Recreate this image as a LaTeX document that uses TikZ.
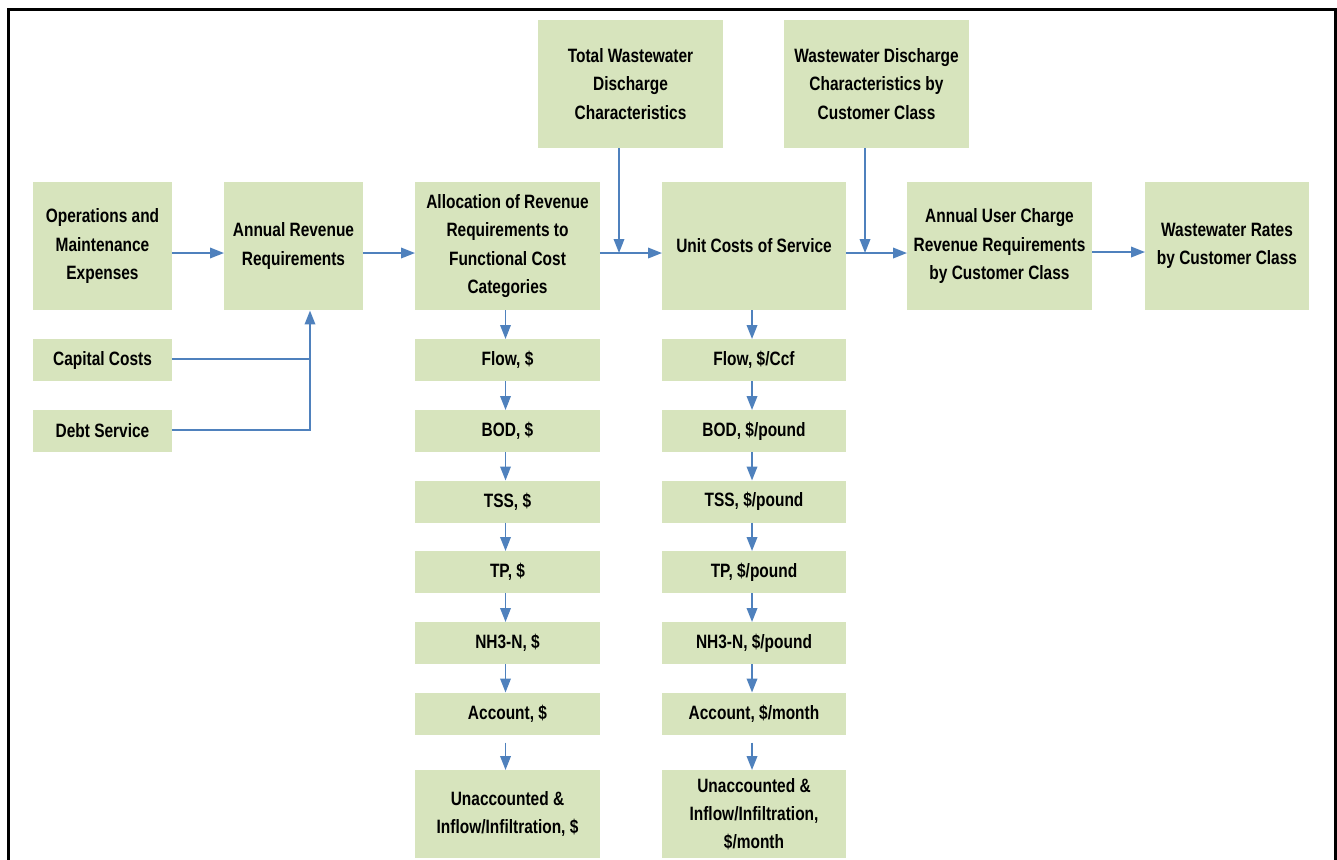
\documentclass[tikz,border=0pt]{standalone}
\usepackage{fontspec}
\setmainfont{Liberation Sans}[FakeStretch=0.8]
\usetikzlibrary{arrows.meta, positioning, calc}
\definecolor{boxgreen}{RGB}{215,228,189}
\definecolor{arrblue}{RGB}{79,129,189}
\tikzset{
  blk/.style={fill=boxgreen, minimum width=#1, inner sep=2pt, outer sep=0pt, align=center,
    font=\bfseries\fontsize{11pt}{16pt}\selectfont},
  blk/.default=2.78cm,
  tall/.style={minimum height=2.58cm},
  flat/.style={minimum height=0.84cm},
  arr/.style={-{Triangle[length=0.28cm, width=0.21cm]}, draw=arrblue, line width=1.1pt},
  ln/.style={draw=arrblue, line width=1.1pt},
  frame/.style={draw=black, line width=1.7pt},
}

\begin{document}
\begin{tikzpicture}[x=0.02cm, y=-0.02cm]
    \useasboundingbox (0,0) rectangle (1337,859);
    \draw[frame] (8.5,875) -- (8.5,9.5) -- (1335,9.5) -- (1335,875);
    \coordinate (mid) at (0,253);
    % top row
    \node[blk, tall] (om) at (102.5,246) {Operations and\\Maintenance\\Expenses};
    \node[blk, tall] (arq) at (293.5,246) {Annual Revenue\\Requirements};
    \node[blk=3.7cm, tall] (alloc) at (507.5,246) {Allocation of Revenue\\Requirements to\\Functional Cost\\Categories};
    \node[blk=3.7cm, tall] (totww) at (630.5,84) {Total Wastewater\\Discharge\\Characteristics};
    \node[blk=3.68cm, tall] (unit) at (754,246) {Unit Costs of Service};
    \node[blk=3.7cm, tall] (wwcls) at (876.5,84) {Wastewater Discharge\\Characteristics by\\Customer Class};
    \node[blk=3.7cm, tall] (auc) at (999.5,246) {Annual User Charge\\Revenue Requirements\\by Customer Class};
    \node[blk=3.28cm, tall] (rates) at (1227,246) {Wastewater Rates\\by Customer Class};
    \node[blk, flat] (cap) at (102.5,360) {Capital Costs};
    \node[blk, flat] (debt) at (102.5,431) {Debt Service};
    % allocation column
    \node[blk=3.7cm, flat] (aflow) at (507.5,360) {Flow, \$};
    \node[blk=3.7cm, flat] (abod) at (507.5,431) {BOD, \$};
    \node[blk=3.7cm, flat] (atss) at (507.5,501.5) {TSS, \$};
    \node[blk=3.7cm, flat] (atp) at (507.5,572) {TP, \$};
    \node[blk=3.7cm, flat] (anh) at (507.5,643) {NH3-N, \$};
    \node[blk=3.7cm, flat] (aacc) at (507.5,713.5) {Account, \$};
    \node[blk=3.7cm, minimum height=1.76cm] (aii) at (507.5,814) {Unaccounted \&\\Inflow/Infiltration, \$};
    % unit cost column
    \node[blk=3.68cm, flat] (uflow) at (754,360) {Flow, \$/Ccf};
    \node[blk=3.68cm, flat] (ubod) at (754,431) {BOD, \$/pound};
    \node[blk=3.68cm, flat] (utss) at (754,501.5) {TSS, \$/pound};
    \node[blk=3.68cm, flat] (utp) at (754,572) {TP, \$/pound};
    \node[blk=3.68cm, flat] (unh) at (754,643) {NH3-N, \$/pound};
    \node[blk=3.68cm, flat] (uacc) at (754,713.5) {Account, \$/month};
    \node[blk=3.68cm, minimum height=1.76cm] (uii) at (754,814) {Unaccounted \&\\Inflow/Infiltration,\\\$/month};
    % main flow
    \draw[arr] (om.east |- mid) -- (arq.west |- mid);
    \draw[arr] (arq.east |- mid) -- (alloc.west |- mid);
    \draw[arr] (alloc.east |- mid) -- (unit.west |- mid);
    \draw[arr] (unit.east |- mid) -- (auc.west |- mid);
    \draw[arr] ([yshift=0.02cm]auc.east |- mid) -- ([yshift=0.02cm]rates.west |- mid);
    \draw[arr] ([xshift=-0.23cm]totww.south) -- ([xshift=-0.23cm]totww.south |- mid);
    \draw[arr] ([xshift=-0.23cm]wwcls.south) -- ([xshift=-0.23cm]wwcls.south |- mid);
    % capital and debt
    \coordinate (jn) at (310,429);
    \draw[ln] ([yshift=0.02cm]cap.east) -- ([yshift=0.02cm]cap.east -| jn);
    \draw[arr] ([yshift=0.02cm]debt.east) -| (jn |- arq.south);
    % columns
    \draw[arr] ([xshift=-0.04cm]alloc.south) -- ([xshift=-0.04cm]aflow.north);
    \draw[arr] ([xshift=-0.04cm]aflow.south) -- ([xshift=-0.04cm]abod.north);
    \draw[arr] ([xshift=-0.04cm]abod.south) -- ([xshift=-0.04cm]atss.north);
    \draw[arr] ([xshift=-0.04cm]atss.south) -- ([xshift=-0.04cm]atp.north);
    \draw[arr] ([xshift=-0.04cm]atp.south) -- ([xshift=-0.04cm]anh.north);
    \draw[arr] ([xshift=-0.04cm]anh.south) -- ([xshift=-0.04cm]aacc.north);
    \draw[arr] ([xshift=-0.04cm, yshift=-0.16cm]aacc.south) -- ([xshift=-0.04cm]aii.north);
    \draw[arr] ([xshift=-0.04cm]unit.south) -- ([xshift=-0.04cm]uflow.north);
    \draw[arr] ([xshift=-0.04cm]uflow.south) -- ([xshift=-0.04cm]ubod.north);
    \draw[arr] ([xshift=-0.04cm]ubod.south) -- ([xshift=-0.04cm]utss.north);
    \draw[arr] ([xshift=-0.04cm]utss.south) -- ([xshift=-0.04cm]utp.north);
    \draw[arr] ([xshift=-0.04cm]utp.south) -- ([xshift=-0.04cm]unh.north);
    \draw[arr] ([xshift=-0.04cm]unh.south) -- ([xshift=-0.04cm]uacc.north);
    \draw[arr] ([xshift=-0.04cm, yshift=-0.16cm]uacc.south) -- ([xshift=-0.04cm]uii.north);
\end{tikzpicture}
\end{document}
